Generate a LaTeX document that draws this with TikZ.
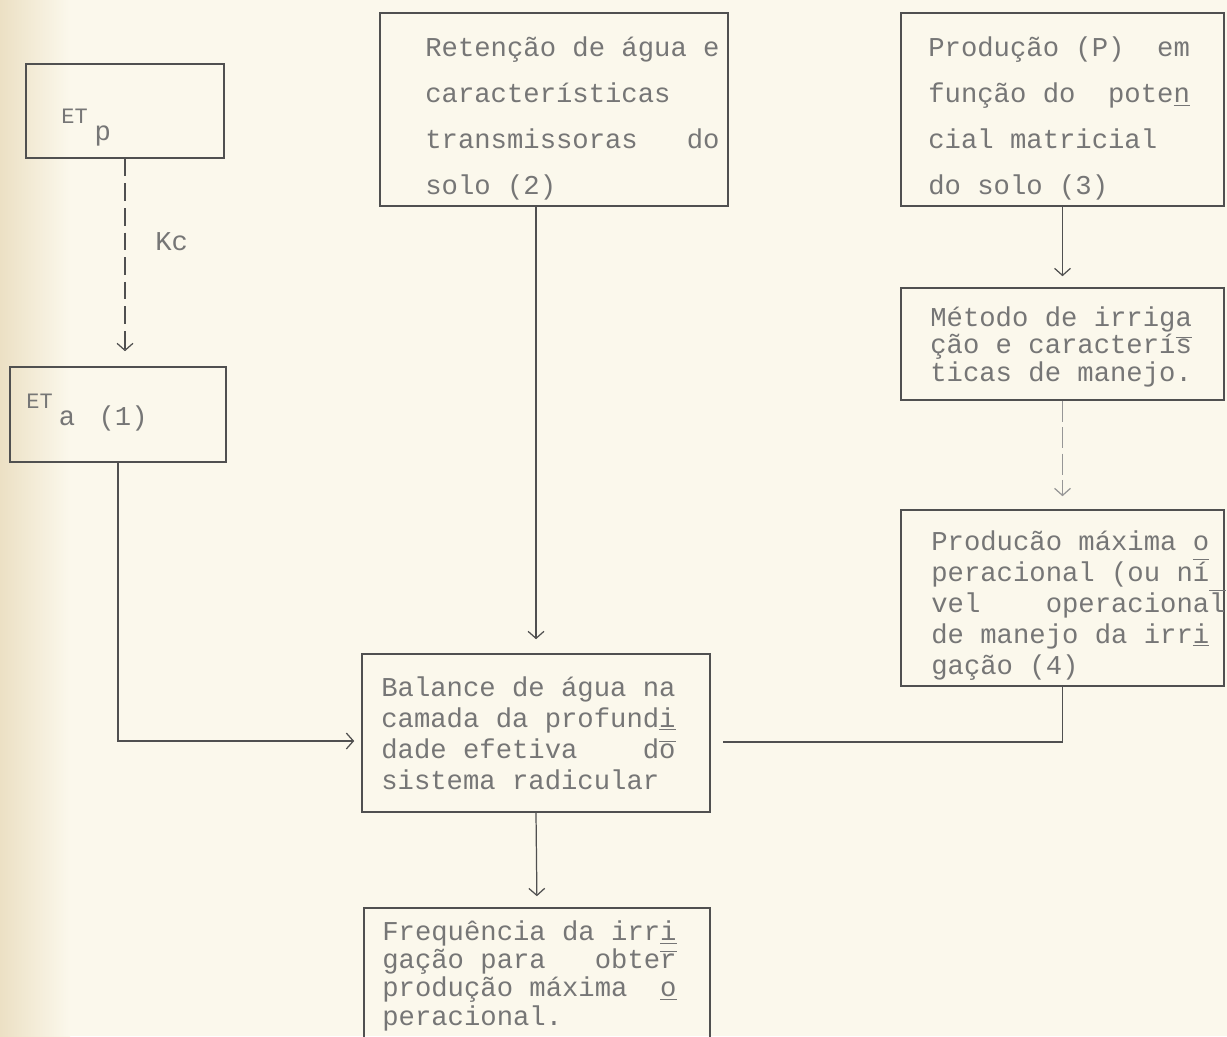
\documentclass[tikz,border=0pt]{standalone}
\usepackage{fontspec}
\setmonofont{Liberation Mono}
\usepackage{tikz}
\usetikzlibrary{arrows.meta}

\definecolor{paper}{RGB}{251,248,236}
\definecolor{tan}{RGB}{236,224,196}
\definecolor{ink}{RGB}{118,118,118}
\definecolor{rule}{RGB}{80,80,80}

\newcommand{\hyU}[1]{\underline{#1}}
\newcommand{\hyO}[1]{$\overline{\mbox{#1}}$}
\newcommand{\tfont}[1]{\ttfamily\fontsize{15.5}{#1}\selectfont\lineskiplimit=-20pt\relax}
\newcommand{\ETs}{\raisebox{9.6pt}{\fontsize{12.5}{14}\selectfont ET}}

\begin{document}
\begin{tikzpicture}[
  box/.style={draw=rule, line width=0.9pt, inner sep=0pt},
  txt/.style={anchor=base west, inner sep=0pt, align=left, text=ink},
  link/.style={draw=rule, line width=0.7pt, -{Straight Barb[length=4pt,width=9pt]}},
]
\useasboundingbox (0,0) rectangle (24.54,-20.72);
\fill[paper] (0,0) rectangle (24.54,-20.72);
\shade[left color=tan, right color=paper] (0,0) rectangle (1.4,-20.72);
\clip (0,0) rectangle (24.54,-20.72);

% boxes
\node[box, minimum width=3.96cm, minimum height=1.88cm] (etp) at (2.5,-2.22) {};
\node[box, minimum width=4.32cm, minimum height=1.9cm] (eta) at (2.36,-8.29) {};
\node[box, minimum width=6.96cm, minimum height=3.86cm] (ret) at (11.08,-2.19) {};
\node[box, minimum width=6.46cm, minimum height=3.86cm] (prod) at (21.25,-2.19) {};
\node[box, minimum width=6.46cm, minimum height=2.24cm] (met) at (21.25,-6.88) {};
\node[box, minimum width=6.46cm, minimum height=3.52cm] (pmax) at (21.25,-11.96) {};
\node[box, minimum width=6.96cm, minimum height=3.16cm] (bal) at (10.72,-14.66) {};
\node[box, minimum width=6.92cm, minimum height=2.84cm] (freq) at (10.74,-19.58) {};

% texts (base = last line)
\node[txt, font=\tfont{16pt}] (etptxt) at (1.22,-2.8) {\ETs\kern4pt p};
\node[txt, font=\tfont{16pt}] (etatxt) at (0.52,-8.5) {\ETs\kern3.5pt a \kern4pt(1)};
\node[txt, font=\tfont{16pt}] (kc) at (3.1,-5.0) {Kc};
\node[txt, font=\tfont{26pt}] (rettxt) at (8.5,-3.88)
  {Retenção de água e\\características\\transmissoras~~~do\\solo (2)};
\node[txt, font=\tfont{26pt}] (prodtxt) at (18.56,-3.88)
  {Produção (P)~~em\\função do~~pote\hyU{n}\\cial matricial\\do solo (3)};
\node[txt, font=\tfont{15.4pt}] (mettxt) at (18.6,-7.62)
  {Método de irriga\\ção e caracterí\hyO{s}\\ticas de manejo.};
\node[txt, font=\tfont{17.6pt}] (pmaxtxt) at (18.62,-13.48)
  {Producão máxima o\\peracional (ou n\hyO{í}\\vel~~~~operaciona\hyO{l}\\de manejo da irr\hyU{i}\\gação (4)};
\node[txt, font=\tfont{17.6pt}] (baltxt) at (7.62,-15.78)
  {Balance de água na\\camada da profund\hyU{i}\\dade efetiva~~~~d\hyO{o}\\sistema radicular};
\node[txt, font=\tfont{16pt}] (freqtxt) at (7.64,-20.5)
  {Frequência da irr\hyU{i}\\gação para~~~obte\hyO{r}\\produção máxima~~\hyU{o}\\peracional.};

% connectors
\draw[link, dash pattern=on 10pt off 4pt, shorten >=0.3cm]
  (etp.south) -- (etp.south |- eta.north);
\draw[link, shorten >=0.14cm] (eta.south) |- ([yshift=-0.16cm]bal.west);
\draw[link, shorten >=0.28cm] (bal.north |- ret.south) -- (bal.north);
\draw[link, shorten >=0.22cm] (prod.south) -- (met.north);
\draw[link, draw=rule!60, dash pattern=on 12pt off 3pt, shorten >=0.26cm]
  (met.south) -- (pmax.north);
\draw[draw=rule, line width=0.7pt, shorten >=0.24cm]
  (pmax.south) |- ([yshift=-0.18cm]bal.east);
\draw[link, shorten >=0.22cm] (bal.south) -- (freq.north);
\end{tikzpicture}
\end{document}
